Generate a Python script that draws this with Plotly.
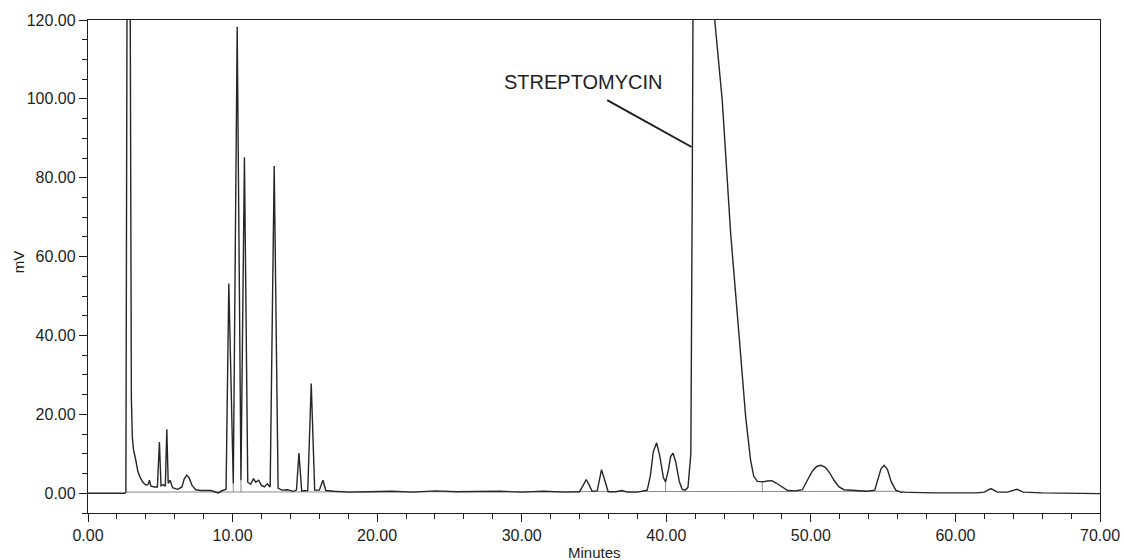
import plotly.graph_objects as go

# Chromatogram trace: retention time (min) and detector response (mV)
time_min = [
    0.0, 2.55, 2.62, 2.66, 2.70, 2.92, 2.95, 3.00, 3.07, 3.15, 3.30, 3.45, 3.60, 3.80,
    4.00, 4.15, 4.25, 4.35, 4.60, 4.80, 4.94, 5.05, 5.20, 5.35, 5.45, 5.55, 5.68, 5.85,
    6.20, 6.50, 6.65, 6.83, 7.00, 7.20, 7.45, 7.80, 8.50, 9.00, 9.30, 9.55, 9.74, 10.05,
    10.32, 10.58, 10.82, 11.05, 11.25, 11.45, 11.60, 11.80, 12.00, 12.20, 12.40, 12.60,
    12.88, 13.15, 13.40, 13.80, 14.20, 14.42, 14.59, 14.78, 15.20, 15.44, 15.68, 16.00,
    16.25, 16.45, 17.00, 18.00, 19.50, 21.00, 22.50, 24.00, 25.50, 27.00, 28.50, 30.00,
    31.50, 33.00, 34.00, 34.25, 34.46, 34.65, 34.87, 35.22, 35.38, 35.52, 35.70, 35.98,
    36.50, 36.95, 37.30, 38.00, 38.68, 38.90, 39.10, 39.33, 39.55, 39.80, 39.95, 40.15,
    40.30, 40.46, 40.65, 40.90, 41.10, 41.30, 41.50, 41.70, 41.80, 41.85, 43.33, 43.36,
    43.87, 44.45, 45.02, 45.49, 45.83, 46.05, 46.30, 46.64, 47.00, 47.30, 47.60, 48.00,
    48.40, 48.90, 49.41, 49.76, 50.10, 50.40, 50.68, 51.00, 51.30, 51.60, 51.95, 52.30,
    52.60, 53.30, 53.90, 54.42, 54.65, 54.85, 55.07, 55.30, 55.55, 55.87, 56.20, 57.00,
    58.50, 60.00, 61.50, 62.00, 62.45, 62.90, 63.60, 64.25, 64.70, 66.00, 68.00, 70.00,
]
response_mv = [
    0.0, 0.0, 0.3, 60.0, 125.0, 125.0, 60.0, 24.0, 14.0, 11.0, 8.5, 5.5, 4.1, 2.8,
    2.1, 2.2, 3.3, 1.8, 1.6, 1.6, 13.0, 1.9, 2.2, 1.8, 16.2, 2.5, 3.3, 1.4,
    1.0, 1.6, 3.6, 4.6, 3.9, 2.0, 0.9, 0.7, 0.7, 0.1, 0.7, 1.0, 53.2, 2.5,
    118.3, 3.3, 85.2, 2.8, 2.3, 3.7, 2.8, 3.3, 2.0, 1.6, 2.4, 1.6,
    83.0, 1.3, 0.8, 0.9, 0.5, 0.8, 10.2, 0.6, 0.7, 27.8, 0.8, 0.8,
    3.3, 0.7, 0.5, 0.3, 0.4, 0.5, 0.3, 0.6, 0.4, 0.4, 0.5, 0.3,
    0.5, 0.3, 0.4, 2.0, 3.5, 2.2, 0.5, 0.6, 4.0, 6.0, 3.8, 0.4,
    0.4, 0.7, 0.3, 0.3, 0.8, 4.5, 10.5, 12.8, 9.5, 4.0, 2.9, 6.0,
    9.3, 10.2, 8.0, 3.0, 1.0, 0.8, 1.5, 10.0, 80.0, 125.0, 125.0, 119.6,
    99.7, 66.0, 40.6, 19.4, 8.4, 4.3, 3.0, 2.9, 3.1, 3.2, 2.6, 1.6,
    0.7, 0.6, 0.9, 3.3, 5.6, 6.8, 7.1, 6.6, 5.2, 3.3, 1.6, 0.9,
    0.8, 0.6, 0.5, 0.8, 3.5, 6.2, 7.1, 6.0, 3.0, 0.8, 0.3, 0.2,
    0.1, 0.1, 0.1, 0.3, 1.2, 0.3, 0.3, 1.0, 0.3, 0.1, 0.0, -0.1,
]

# Integration baseline and peak drop lines
baseline_min = [2.62, 56.5]
baseline_mv = [0.3, 0.5]
drop_min = [10.05, 10.05, None, 10.58, 10.58, None, 39.95, 39.95, None, 46.64, 46.64]
drop_mv = [0.3, 2.5, None, 0.3, 3.3, None, 0.3, 2.9, None, 0.4, 2.9]

# Axis ticks
x_ticks = [0, 10, 20, 30, 40, 50, 60, 70]
x_labels = ["0.00", "10.00", "20.00", "30.00", "40.00", "50.00", "60.00", "70.00"]
y_ticks = [0, 20, 40, 60, 80, 100, 120]
y_labels = ["0.00", "20.00", "40.00", "60.00", "80.00", "100.00", "120.00"]

# Peak label
peak_name = "STREPTOMYCIN"
label_pos = (34.27, 104.4)
pointer_from = (35.91, 99.7)
pointer_to = (41.75, 87.8)

FONT = "Liberation Sans, Arial, sans-serif"
INK = "#1e1e1e"

fig = go.Figure()
fig.add_trace(go.Scatter(
    x=baseline_min, y=baseline_mv, mode="lines",
    line=dict(color="#8a8a8a", width=1), hoverinfo="skip", showlegend=False,
))
fig.add_trace(go.Scatter(
    x=drop_min, y=drop_mv, mode="lines",
    line=dict(color="#8a8a8a", width=1), hoverinfo="skip", showlegend=False,
))
fig.add_trace(go.Scatter(
    x=time_min, y=response_mv, mode="lines",
    line=dict(color="#262626", width=1.4), showlegend=False,
))

fig.add_shape(
    type="line", xref="x", yref="y",
    x0=pointer_from[0], y0=pointer_from[1], x1=pointer_to[0], y1=pointer_to[1],
    line=dict(color=INK, width=2),
)
fig.add_annotation(
    x=label_pos[0], y=label_pos[1], xref="x", yref="y", text=peak_name,
    showarrow=False, font=dict(family=FONT, size=20, color=INK),
    xanchor="center", yanchor="middle",
)
fig.add_annotation(
    x=0.5, y=-0.081, xref="paper", yref="paper", text="Minutes",
    showarrow=False, font=dict(family=FONT, size=15, color=INK),
    xanchor="center", yanchor="middle",
)
fig.add_annotation(
    x=-0.069, y=0.509, xref="paper", yref="paper", text="mV", textangle=-90,
    showarrow=False, font=dict(family=FONT, size=15, color=INK),
    xanchor="center", yanchor="middle",
)

axis_common = dict(
    showgrid=False, zeroline=False, showline=True, linecolor=INK, linewidth=1.3,
    mirror=True, ticks="outside", ticklen=8, tickwidth=1.3, tickcolor=INK,
    tickfont=dict(family=FONT, size=16, color=INK), automargin=False,
)
fig.update_xaxes(
    range=[0, 70], tickmode="array", tickvals=x_ticks, ticktext=x_labels,
    minor=dict(dtick=2, tick0=0, ticklen=5, tickwidth=1.2, tickcolor=INK, ticks="outside"),
    **axis_common,
)
fig.update_yaxes(
    range=[-5, 120], tickmode="array", tickvals=y_ticks, ticktext=y_labels,
    minor=dict(dtick=5, tick0=0, ticklen=5, tickwidth=1.2, tickcolor=INK, ticks="outside"),
    **axis_common,
)

fig.update_layout(
    width=1124, height=560,
    margin=dict(l=88, r=24, t=20, b=47),
    plot_bgcolor="white", paper_bgcolor="white",
)

fig.write_html("out.html")
